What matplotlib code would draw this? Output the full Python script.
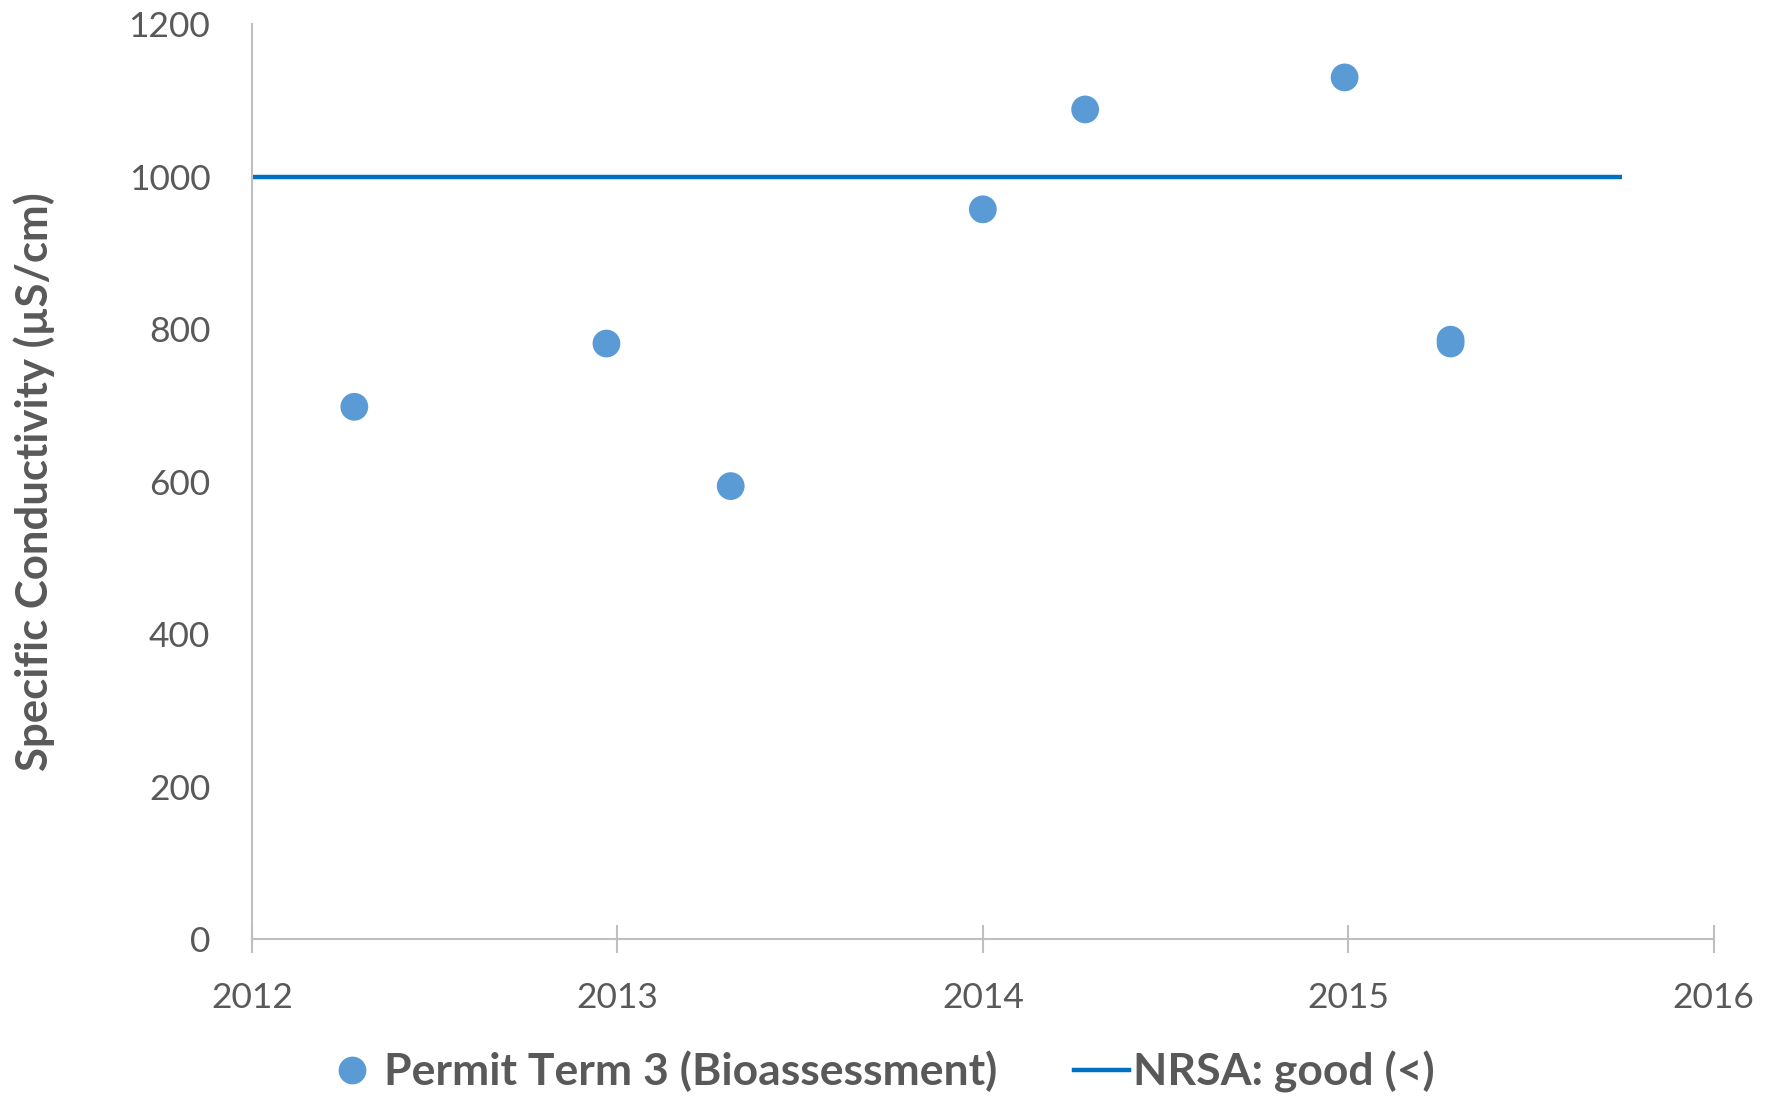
import matplotlib
matplotlib.use("Agg")
import matplotlib.pyplot as plt
from matplotlib.lines import Line2D

# Data
years = [2012.28, 2012.97, 2013.31, 2014.00, 2014.28, 2014.99, 2015.28, 2015.28]
conductivity = [698, 781, 594, 957, 1088, 1130, 786, 781]
nrsa_x = [2012.0, 2015.75]
nrsa_y = [1000, 1000]
x_ticks = [2012, 2013, 2014, 2015, 2016]
y_ticks = [0, 200, 400, 600, 800, 1000, 1200]

series_labels = ["Permit Term 3 (Bioassessment)", "NRSA: good (<)"]
y_label = "Specific Conductivity (\u00b5S/cm)"

plt.rcParams['font.family'] = ['Lato', 'DejaVu Sans']

text_color = "#595959"
axis_color = "#BFBFBF"
marker_color = "#5B9BD5"
line_color = "#0070C0"

fig = plt.figure(figsize=(17.81, 10.98), dpi=100)
ax = fig.add_axes([0.1415, 0.1448, 0.8207, 0.8333])

ax.plot(nrsa_x, nrsa_y, color=line_color, linewidth=3.2, solid_capstyle='butt', zorder=2)
ax.scatter(years, conductivity, s=400, color=marker_color, edgecolors='none', zorder=3)

ax.set_xlim(2012, 2016)
ax.set_ylim(0, 1200)
ax.set_xticks(x_ticks)
ax.set_yticks(y_ticks)
ax.set_xticklabels([str(t) for t in x_ticks])
ax.set_yticklabels([str(t) for t in y_ticks])

for s in ['top', 'right']:
    ax.spines[s].set_visible(False)
for s in ['left', 'bottom']:
    ax.spines[s].set_color(axis_color)
    ax.spines[s].set_linewidth(1.5)

ax.tick_params(axis='y', length=0, pad=30, labelsize=25.5, labelcolor=text_color)
ax.tick_params(axis='x', direction='inout', length=19.5, width=1.5, color=axis_color,
               pad=21, labelsize=25.5, labelcolor=text_color)

ax.set_ylabel(y_label, fontsize=31.5, fontweight='bold', color=text_color)
ax.yaxis.set_label_coords(-0.149, 0.5)
ax.yaxis.label.set_va('center')

handles = [
    Line2D([], [], linestyle='none', marker='o', markersize=20, color=marker_color, markeredgewidth=0),
    Line2D([], [], color=line_color, linewidth=3.2),
]
fig.legend(handles, series_labels, loc='center', bbox_to_anchor=(0.494, 0.024),
           ncol=2, frameon=False, handlelength=1.23, handletextpad=0.1,
           columnspacing=1.73, borderpad=0, prop={'weight': 'bold', 'size': 32})
for t in fig.legends[0].get_texts():
    t.set_color(text_color)

fig.savefig("out.png", dpi=100, facecolor='white')
